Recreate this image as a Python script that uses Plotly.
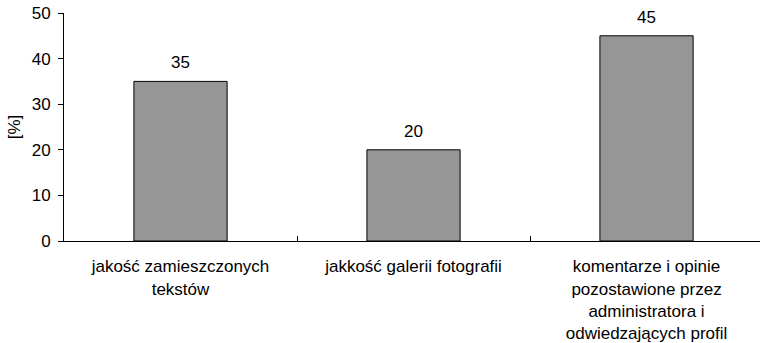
import plotly.graph_objects as go

categories = [
    "jakość zamieszczonych<br>tekstów",
    "jakkość galerii fotografii",
    "komentarze i opinie<br>pozostawione przez<br>administratora i<br>odwiedzających profil",
]
values = [35, 20, 45]
y_ticks = [0, 10, 20, 30, 40, 50]
y_title = "[%]"

FONT = "Liberation Sans, Arial, sans-serif"
FS = 17

fig = go.Figure(
    go.Bar(
        x=categories,
        y=values,
        width=0.4,
        marker=dict(color="#969696", line=dict(color="black", width=1)),
        hoverinfo="skip",
    )
)

for c, v in zip(categories, values):
    fig.add_annotation(
        x=c, y=v, text=str(v), showarrow=False,
        yanchor="bottom", yshift=7,
        font=dict(family=FONT, size=FS, color="black"),
    )

fig.update_layout(
    width=760, height=343,
    margin=dict(l=64, r=0, t=13, b=102),
    paper_bgcolor="white", plot_bgcolor="white",
    font=dict(family=FONT, size=FS, color="black"),
    showlegend=False,
)
fig.update_xaxes(
    type="category",
    range=[-0.5, 2.487],
    showline=True, linecolor="black", linewidth=1,
    ticks="inside", tickson="boundaries", ticklen=5, tickcolor="black",
    showgrid=False, zeroline=False,
    ticklabelstandoff=10,
    tickfont=dict(family=FONT, size=FS, color="black"),
)
fig.update_yaxes(
    range=[0, 50],
    tickvals=y_ticks,
    showline=True, linecolor="black", linewidth=1,
    ticks="outside", ticklen=5, tickcolor="black",
    showgrid=False, zeroline=False,
    ticklabelstandoff=4,
    title=dict(text=y_title, standoff=6, font=dict(family=FONT, size=FS, color="black")),
    tickfont=dict(family=FONT, size=FS, color="black"),
)

fig.write_html("out.html")
